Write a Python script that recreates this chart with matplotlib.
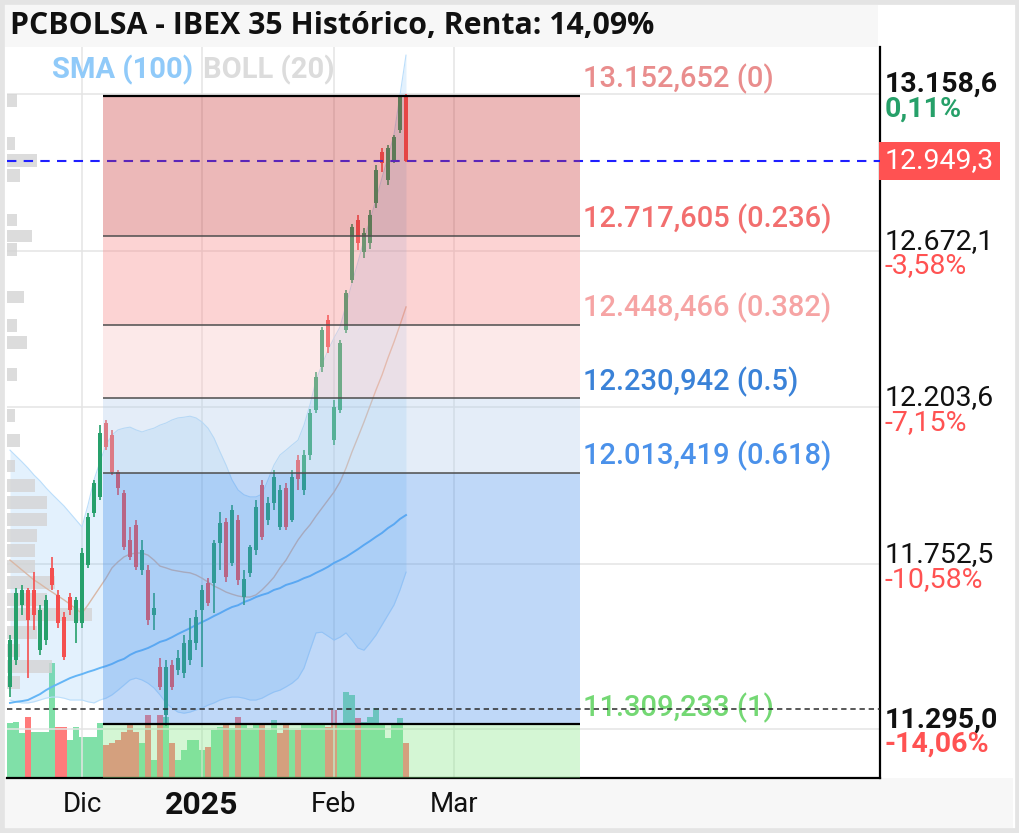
import numpy as np
import matplotlib
matplotlib.use('Agg')
import matplotlib.pyplot as plt
import matplotlib.transforms as mtransforms
from matplotlib.patches import Rectangle
from matplotlib.ticker import NullLocator

title = 'PCBOLSA - IBEX 35 Histórico, Renta: 14,09%'

# daily sessions 14-nov-2024 .. 19-feb-2025 (index 0..66)
opens = [11411, 11485, 11638, 11680, 11680, 11512, 11540, 11742, 11666, 11604,
         11660, 11587, 11587, 11750, 11898, 11944, 12158, 12123, 12016, 11955,
         11821, 11864, 11736, 11736, 11610, 11466, 11334, 11471, 11457, 11449,
         11485, 11532, 11624, 11699, 11699, 11812, 11872, 11756, 11878, 11660,
         11728, 11793, 11978, 11878, 11927, 11858, 11970, 11878, 12050, 11964,
         12065, 12196, 12323, 12463, 12108, 12196, 12433, 12583, 12766, 12668,
         12696, 12819, 12977, 12890, 12951, 13045, 13149]
highs = [11554, 11685, 11694, 11685, 11730, 11638, 11666, 11773, 11680, 11618,
         11671, 11660, 11798, 11898, 11993, 12152, 12167, 12138, 12022, 11964,
         11858, 11878, 11821, 11750, 11671, 11490, 11485, 11485, 11512, 11554,
         11601, 11624, 11694, 11713, 11821, 11901, 11884, 11921, 11892, 11736,
         11807, 11935, 11993, 11944, 12022, 11978, 11984, 12022, 12065, 12079,
         12199, 12308, 12442, 12478, 12225, 12403, 12553, 12755, 12782, 12741,
         12797, 12936, 12989, 12998, 13030, 13155, 13158.6]
lows = [11383, 11471, 11610, 11435, 11568, 11499, 11526, 11680, 11574, 11485,
        11610, 11532, 11574, 11742, 11887, 11935, 12079, 12007, 11950, 11793,
        11764, 11736, 11722, 11582, 11568, 11402, 11304, 11402, 11443, 11435,
        11471, 11512, 11466, 11635, 11615, 11736, 11702, 11747, 11694, 11638,
        11716, 11778, 11821, 11864, 11907, 11849, 11849, 11872, 11964, 11950,
        12050, 12187, 12308, 12364, 12094, 12187, 12424, 12574, 12674, 12650,
        12677, 12803, 12914, 12874, 12942, 13036, 12945]
closes = [11540, 11671, 11680, 11596, 11610, 11624, 11652, 11694, 11587, 11493,
          11624, 11652, 11784, 11887, 11984, 12129, 12088, 12016, 11970, 11801,
          11773, 11745, 11793, 11596, 11629, 11411, 11466, 11411, 11490, 11532,
          11540, 11604, 11680, 11643, 11812, 11869, 11716, 11907, 11708, 11712,
          11801, 11915, 11830, 11927, 12001, 11964, 11858, 12001, 11995, 12065,
          12187, 12293, 12433, 12382, 12205, 12394, 12544, 12745, 12696, 12726,
          12782, 12920, 12942, 12989, 13023, 13149, 12949.3]
volume = [220, 224, 180, 244, 184, 184, 184, 460, 204, 204,
          152, 204, 164, 164, 164, 220, 132, 140, 152, 184,
          212, 184, 140, 252, 72, 252, 244, 140, 72, 112,
          152, 152, 112, 124, 192, 204, 212, 200, 244, 212,
          200, 212, 212, 192, 232, 180, 212, 192, 192, 212,
          212, 212, 212, 204, 272, 220, 344, 332, 240, 224,
          244, 280, 212, 160, 212, 240, 140]

sma100 = [11367, 11370, 11372, 11375, 11383, 11391, 11402, 11411, 11419, 11427,
          11435, 11441, 11446, 11452, 11457, 11463, 11468, 11474, 11482, 11488,
          11499, 11507, 11512, 11518, 11526, 11535, 11540, 11548, 11557, 11565,
          11573, 11582, 11590, 11598, 11607, 11615, 11624, 11632, 11637, 11646,
          11652, 11660, 11666, 11671, 11680, 11685, 11694, 11699, 11705, 11713,
          11719, 11728, 11736, 11745, 11756, 11764, 11773, 11784, 11795, 11807,
          11818, 11830, 11841, 11855, 11866, 11881, 11892]
boll_mid = [11764, 11750, 11736, 11722, 11708, 11697, 11685, 11674, 11663, 11652,
            11640, 11626, 11615, 11638, 11663, 11688, 11713, 11742, 11759, 11773,
            11781, 11784, 11784, 11778, 11764, 11747, 11742, 11736, 11733, 11730,
            11728, 11722, 11713, 11702, 11691, 11683, 11674, 11668, 11663, 11660,
            11660, 11666, 11680, 11697, 11716, 11742, 11764, 11793, 11821, 11844,
            11864, 11889, 11912, 11935, 11958, 11987, 12027, 12074, 12117, 12161,
            12208, 12255, 12299, 12350, 12397, 12448, 12502]
boll_up = [12079, 12062, 12045, 12027, 12007, 11990, 11970, 11952, 11935, 11918,
           11898, 11878, 11858, 11921, 11993, 12045, 12094, 12123, 12138, 12143,
           12146, 12138, 12132, 12138, 12143, 12152, 12158, 12167, 12173, 12175,
           12178, 12173, 12161, 12143, 12114, 12074, 12036, 11993, 11964, 11950,
           11944, 11944, 11952, 11993, 12036, 12065, 12079, 12094, 12108, 12152,
           12211, 12284, 12329, 12373, 12409, 12442, 12507, 12574, 12638, 12705,
           12766, 12828, 12896, 12961, 13030, 13155, 13282]
boll_low = [11375, 11370, 11367, 11367, 11370, 11375, 11380, 11383, 11383, 11380,
            11375, 11375, 11375, 11370, 11367, 11375, 11380, 11389, 11402, 11416,
            11430, 11435, 11430, 11421, 11408, 11389, 11367, 11353, 11342, 11339,
            11342, 11348, 11353, 11361, 11367, 11375, 11380, 11383, 11383, 11380,
            11375, 11375, 11380, 11389, 11397, 11402, 11411, 11421, 11435, 11463,
            11512, 11560, 11562, 11551, 11540, 11548, 11560, 11540, 11518, 11512,
            11532, 11554, 11582, 11610, 11638, 11680, 11730]

# volume at price (left profile)
profile_prices = [13137, 13004, 12951, 12904, 12766, 12717, 12677, 12532, 12446, 12397,
                  12302, 12181, 12108, 12033, 11978, 11929, 11880, 11835, 11790, 11747,
                  11702, 11654, 11610, 11560, 11512, 11466, 11422]
profile_vol = [10, 8, 30, 13, 10, 25, 10, 17, 10, 20,
               10, 8, 13, 8, 28, 40, 40, 30, 28, 28,
               48, 40, 85, 30, 13, 45, 13]

month_pos = [12, 32, 54, 74]
month_labels = ['Dic', '2025', 'Feb', 'Mar']

fib_ratios = [0, 0.236, 0.382, 0.5, 0.618, 1]
fib_prices = [13152.652, 12717.605, 12448.466, 12230.942, 12013.419, 11309.233]
fib_x0, fib_x1 = 15.5, 95

axis_prices = [13158.6, 12672.1, 12203.6, 11752.5, 11295.0]
axis_pcts = ['0,11%', '-3,58%', '-7,15%', '-10,58%', '-14,06%']
last_price = 12949.3
support = 11350

y_min, y_max = 11163.7, 13308.1
x_min, x_max = -0.5, 145


def es(v, nd):
    s = f'{v:,.{nd}f}'
    return s.replace(',', ' ').replace('.', ',').replace(' ', '.')


GREEN = '#26a06b'
RED = '#f44f4f'

fig = plt.figure(figsize=(10.2, 8.33), dpi=100)
fig.patches.append(Rectangle((5 / 1020, 1 - 47 / 833), 873 / 1020, 42 / 833,
                             transform=fig.transFigure, fc='#f7f7f7', ec='none', zorder=-2))
fig.patches.append(Rectangle((5 / 1020, 1 - 828 / 833), 1008 / 1020, 50 / 833,
                             transform=fig.transFigure, fc='#f7f7f7', ec='none', zorder=-2))
fig.patches.append(Rectangle((0, 0), 1, 1, transform=fig.transFigure, fill=False,
                             ec='#e4e4e4', lw=7, zorder=-1))

ax = fig.add_axes([7 / 1020, 1 - 778 / 833, 873 / 1020, 731 / 833])
axv = ax.twinx()
ax.set_zorder(axv.get_zorder() + 1)
ax.patch.set_visible(False)

idx = np.arange(len(closes))
o = np.array(opens)
c = np.array(closes)
up = c >= o

# volume underneath everything
prev = np.r_[c[0] - 1, c[:-1]]
vol_colors = np.where(c >= prev, '#80e0a8', '#ff7b7b')
axv.bar(idx, volume, width=0.85, color=vol_colors, lw=0)
axv.set_ylim(0, 2924)
axv.set_yticks([])
for s in axv.spines.values():
    s.set_visible(False)

ax.set_yscale('log')
ax.set_ylim(y_min, y_max)
ax.set_xlim(x_min, x_max)
ax.yaxis.set_minor_locator(NullLocator())
ax.set_yticks(axis_prices)
ax.tick_params(axis='y', which='both', length=0, labelleft=False, labelright=False)
ax.set_xticks(month_pos, month_labels)
ax.tick_params(axis='x', length=0, pad=9, labelsize=20, labelcolor='#111111')
for lbl in ax.get_xticklabels():
    lbl.set_family('Roboto')
    if lbl.get_text() == '2025':
        lbl.set_fontweight('bold')
        lbl.set_fontsize(23)
ax.grid(True, color='#e4e4e4', lw=1.1)
ax.set_axisbelow(True)
for side in ['top', 'left']:
    ax.spines[side].set_visible(False)
for side in ['right', 'bottom']:
    ax.spines[side].set_color('black')
    ax.spines[side].set_linewidth(1.6)

# bollinger + sma
ax.fill_between(idx, boll_low, boll_up, color='#64b5f6', alpha=0.18, lw=0, zorder=1)
ax.plot(idx, boll_up, color='#bbdefb', lw=0.8, zorder=1.5)
ax.plot(idx, boll_low, color='#bbdefb', lw=0.8, zorder=1.5)
ax.plot(idx, boll_mid, color='#d9b8a6', lw=1.0, zorder=1.6)
ax.plot(idx, sma100, color='#64b5f6', lw=1.4, zorder=1.7)

# volume profile
pp = np.array(profile_prices, dtype=float)
ax.barh(pp, np.array(profile_vol) / 6.0, left=x_min, height=pp * 0.0031,
        color='#d4d4d4', alpha=0.8, lw=0, zorder=1.2)

# candles
cols = np.where(up, GREEN, RED)
ax.vlines(idx, lows, highs, colors=cols, lw=1.2, zorder=3)
ax.bar(idx, np.maximum(np.abs(c - o), 2), bottom=np.minimum(o, c), width=0.75,
       color=cols, lw=0, zorder=3)

ax.axhline(last_price, color='#1f1fff', lw=1.5, ls=(0, (4.5, 3.5)), zorder=3.5)

# fibonacci retracement
zone_cols = ['#c93434', '#f98181', '#f9c0c0', '#b2ceeb', '#4890eb']
for k in range(len(fib_prices) - 1):
    ax.fill_between([fib_x0, fib_x1], fib_prices[k + 1], fib_prices[k],
                    color=zone_cols[k], alpha=0.35, lw=0, zorder=4)
ax.fill_between([fib_x0, fib_x1], y_min, fib_prices[-1],
                color='#84e884', alpha=0.35, lw=0, zorder=4)
for k, p in enumerate(fib_prices):
    edge = k in (0, len(fib_prices) - 1)
    ax.hlines(p, fib_x0, fib_x1, colors='black' if edge else '#4d4d4d',
              lw=1.6 if edge else 1.1, zorder=5)

fib_txt_cols = ['#e98d8d', '#f26e6e', '#f6a4a4', '#3a82d8', '#4a91ea', '#74d874']
for p, r, col in zip(fib_prices, fib_ratios, fib_txt_cols):
    ax.annotate(f'{es(p, 3)} ({r:g})', xy=(fib_x1, p), xytext=(2, 6),
                textcoords='offset points', va='baseline', ha='left',
                fontsize=21, family='Roboto', fontweight='medium', color=col, zorder=6)

ax.axhline(support, color='#2b2b2b', lw=1.1, ls=(0, (3.5, 2.5)), zorder=6)

# right price scale
trans = mtransforms.blended_transform_factory(ax.transAxes, ax.transData)
for k, (p, pct) in enumerate(zip(axis_prices, axis_pcts)):
    bold = k in (0, len(axis_prices) - 1)
    pcol = '#26a069' if not pct.startswith('-') else '#ff5252'
    ax.annotate(es(p, 1), xy=(1, p), xycoords=trans, xytext=(3.5, 1.5),
                textcoords='offset points', va='baseline', ha='left', fontsize=20.5,
                family='Roboto', fontweight='bold' if bold else 'normal',
                color='#111111', annotation_clip=False)
    ax.annotate(pct, xy=(1, p), xycoords=trans, xytext=(3.5, -1),
                textcoords='offset points', va='top', ha='left', fontsize=20.5,
                family='Roboto', fontweight='bold' if bold else 'normal',
                color=pcol, annotation_clip=False)

ax.annotate(es(last_price, 1), xy=(1, last_price), xycoords=trans, xytext=(3.5, 0),
            textcoords='offset points', va='center', ha='left', fontsize=20.5,
            family='Roboto', color='white', annotation_clip=False,
            bbox=dict(boxstyle='square,pad=0.2', fc='#ff5252', ec='none'))

# indicator legend
ax.text(0.0515, 0.9685, 'SMA (100)', transform=ax.transAxes, va='center', ha='left',
        fontsize=21, fontweight='bold', family='Roboto', color='#90caf9')
ax.text(0.2245, 0.9685, 'BOLL (20)', transform=ax.transAxes, va='center', ha='left',
        fontsize=21, fontweight='bold', family='Roboto', color='#dcdcdc')

fig.text(10 / 1020, 1 - 26 / 833, title, va='center', ha='left', fontsize=21.8,
         fontweight='bold', family='Open Sans', color='#111111')

fig.savefig('out.png', dpi=100)
